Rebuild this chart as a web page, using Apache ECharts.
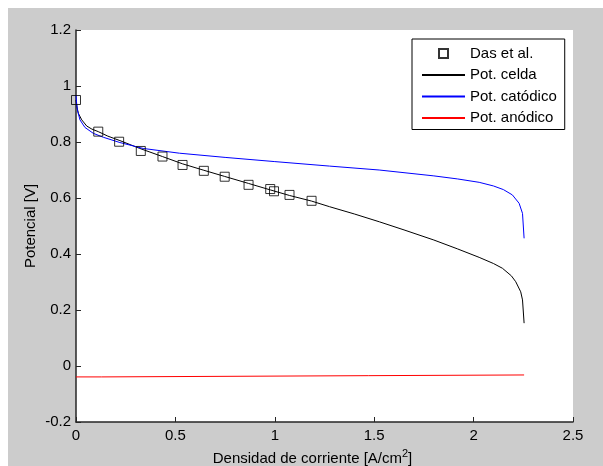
<!DOCTYPE html>
<html>
<head>
<meta charset="utf-8">
<script src="https://cdn.jsdelivr.net/npm/echarts@6/dist/echarts.min.js"></script>
<style>
  html, body { margin: 0; padding: 0; background: #ffffff; width: 603px; height: 466px; overflow: hidden; }
  #chart { position: absolute; left: 8px; top: 8px; width: 595px; height: 458px; background: #cccccc; }
</style>
</head>
<body>
<div id="chart"></div>
<script>
// Das et al. experimental points
const dasX = [0.0, 0.112, 0.217, 0.326, 0.435, 0.536, 0.643, 0.748, 0.868, 0.977, 0.996, 1.074, 1.185];
const dasY = [0.95, 0.837, 0.801, 0.768, 0.748, 0.718, 0.697, 0.676, 0.647, 0.632, 0.624, 0.611, 0.590];

// Pot. celda (black)
const celdaX = [0, 0.005, 0.012, 0.029, 0.054, 0.08, 0.112, 0.16, 0.221, 0.321, 0.435, 0.536, 0.643, 0.748, 0.868, 0.977, 1.074, 1.185, 1.275, 1.4, 1.526, 1.65, 1.8, 1.92, 2.028, 2.1, 2.145, 2.19, 2.212, 2.237, 2.246, 2.254];
const celdaY = [0.95, 0.925, 0.902, 0.879, 0.857, 0.846, 0.837, 0.821, 0.805, 0.777, 0.748, 0.722, 0.699, 0.677, 0.652, 0.629, 0.609, 0.589, 0.569, 0.543, 0.515, 0.486, 0.450, 0.418, 0.388, 0.366, 0.349, 0.322, 0.301, 0.265, 0.236, 0.153];

// Pot. catódico (blue)
const catX = [0, 0.003, 0.007, 0.02, 0.045, 0.087, 0.137, 0.221, 0.338, 0.52, 0.75, 1.0, 1.275, 1.525, 1.8, 1.92, 2.028, 2.1, 2.15, 2.195, 2.229, 2.246, 2.254];
const catY = [0.968, 0.94, 0.914, 0.879, 0.852, 0.831, 0.817, 0.798, 0.777, 0.760, 0.745, 0.73, 0.714, 0.70, 0.679, 0.668, 0.656, 0.643, 0.63, 0.611, 0.581, 0.545, 0.456];

// Pot. anódico (red)
const anX = [0, 0.129, 0.13, 1.47, 1.48, 2.254];
const anY = [-0.039, -0.039, -0.0345, -0.0345, -0.032, -0.032];

// axes
const xMin = 0, xMax = 2.5, xStep = 0.5;
const yMin = -0.2, yMax = 1.2, yStep = 0.2;

const names = ['Das et al.', 'Pot. celda', 'Pot. catódico', 'Pot. anódico'];
const xTitle = 'Densidad de corriente [A/cm{sup|2}]';
const yTitle = 'Potencial [V]';

function zip(a, b) { return a.map((v, i) => [v, b[i]]); }

const chart = echarts.init(document.getElementById('chart'), null, { renderer: 'canvas' });
const font = 'Liberation Sans, Arial, sans-serif';
const axisColor = '#262626';
// small hollow square centred in a 43x9 legend icon box
const squareIcon = 'path://M0,0 M43,9 M17,0 L26,0 L26,9 L17,9 Z';

chart.setOption({
  backgroundColor: 'transparent',
  animation: false,
  grid: {
    left: 68, top: 22, right: 30, bottom: 44,
    outerBoundsMode: 'none', containLabel: false,
    show: true, backgroundColor: '#ffffff', borderWidth: 0
  },
  legend: {
    data: [
      { name: names[0], icon: squareIcon },
      { name: names[1], itemStyle: { opacity: 0 } },
      { name: names[2], itemStyle: { opacity: 0 } },
      { name: names[3], itemStyle: { opacity: 0 } }
    ],
    orient: 'vertical',
    left: 404, top: 31,
    padding: [7, 8, 4, 9],
    itemWidth: 43, itemHeight: 9, itemGap: 6.5,
    backgroundColor: '#ffffff',
    borderColor: '#000000', borderWidth: 1, borderRadius: 0,
    textStyle: { color: '#000', fontSize: 15, fontFamily: font }
  },
  xAxis: {
    type: 'value', min: xMin, max: xMax, interval: xStep,
    name: xTitle, nameLocation: 'middle', nameGap: 26, nameMoveOverlap: false,
    nameTextStyle: {
      color: '#000', fontSize: 15, fontFamily: font, lineHeight: 22,
      padding: [0, 24, 0, 0],
      rich: { sup: { fontSize: 11, fontFamily: font, verticalAlign: 'top', color: '#000' } }
    },
    splitLine: { show: false },
    axisLine: { onZero: false, lineStyle: { color: axisColor, width: 1.5 } },
    axisTick: { inside: true, length: 5, lineStyle: { color: axisColor } },
    axisLabel: { color: '#000', fontSize: 15, fontFamily: font, margin: 6 }
  },
  yAxis: {
    type: 'value', min: yMin, max: yMax, interval: yStep,
    name: yTitle, nameLocation: 'middle', nameGap: 38, nameMoveOverlap: false,
    nameTextStyle: { color: '#000', fontSize: 15, fontFamily: font },
    splitLine: { show: false },
    axisLine: { show: true, onZero: false, lineStyle: { color: axisColor, width: 1.5 } },
    axisTick: { show: true, inside: true, length: 5, lineStyle: { color: axisColor } },
    axisLabel: { color: '#000', fontSize: 15, fontFamily: font, margin: 5 }
  },
  series: [
    {
      name: names[0], type: 'scatter', data: zip(dasX, dasY),
      symbol: 'rect', symbolSize: 9, z: 5,
      itemStyle: { color: 'rgba(255,255,255,0)', borderColor: '#000', borderWidth: 1 }
    },
    {
      name: names[1], type: 'line', data: zip(celdaX, celdaY),
      showSymbol: false, symbol: 'none',
      lineStyle: { color: '#000000', width: 1 }, itemStyle: { color: '#000000' }
    },
    {
      name: names[2], type: 'line', data: zip(catX, catY),
      showSymbol: false, symbol: 'none',
      lineStyle: { color: '#0000ff', width: 1 }, itemStyle: { color: '#0000ff' }
    },
    {
      name: names[3], type: 'line', data: zip(anX, anY),
      showSymbol: false, symbol: 'none',
      lineStyle: { color: '#ff0000', width: 1 }, itemStyle: { color: '#ff0000' }
    }
  ]
});
</script>
</body>
</html>
